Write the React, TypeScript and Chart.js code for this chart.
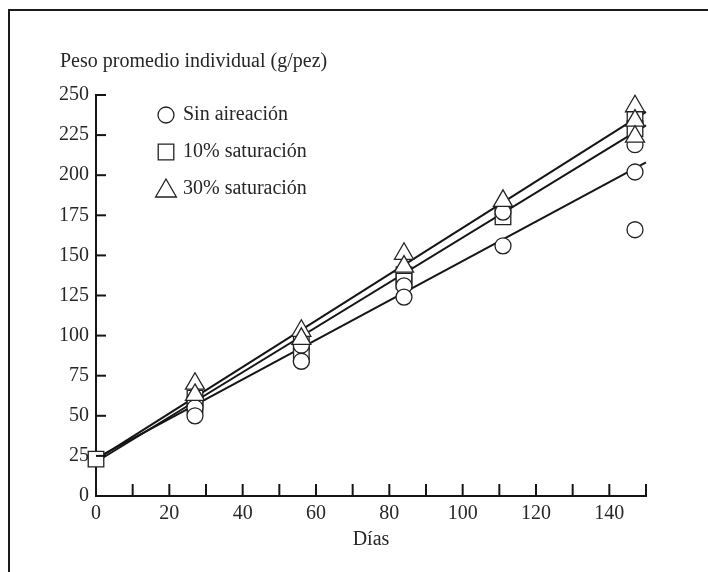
import React, { useEffect, useRef } from "react";
import { Chart, registerables } from "chart.js";

Chart.register(...registerables);

// ---- data ----
const TITLE = "Peso promedio individual (g/pez)";
const X_TITLE = "Días";
const LEGEND_LABELS = ["Sin aireación", "10% saturación", "30% saturación"];

const sinX = [27, 27, 56, 56, 84, 84, 111, 111, 147, 147, 147];
const sinY = [55, 50, 94, 84, 131, 124, 177, 156, 219, 202, 166];

const s10X = [0, 27, 27, 56, 56, 84, 84, 111, 147, 147];
const s10Y = [23, 61, 57, 96, 88, 138, 134, 174, 235, 229];

const s30X = [27, 27, 56, 56, 84, 84, 111, 147, 147, 147];
const s30Y = [70, 63, 103, 98, 151, 143, 184, 243, 234, 224];

// fitted straight lines (start / end)
const fitX = [2, 150];
const sinFit = [26, 208];
const s10Fit = [24, 231];
const s30Fit = [25.5, 239.5];

const X_MIN = 0;
const X_MAX = 150;
const X_STEP = 10;
const X_LABEL_STEP = 20;
const Y_MIN = 0;
const Y_MAX = 250;
const Y_STEP = 25;

// ---- styles ----
const FONT = '"Liberation Serif", "Times New Roman", serif';
const TEXT = "#262626";
const INK = "#151515";

const pts = (xs: number[], ys: number[]) => xs.map((x, i) => ({ x, y: ys[i] }));

function drawMarker(ctx: CanvasRenderingContext2D, style: string, x: number, y: number, r: number) {
  ctx.beginPath();
  if (style === "circle") {
    ctx.arc(x, y, r, 0, Math.PI * 2);
  } else if (style === "rect") {
    const s = r * Math.SQRT1_2;
    ctx.rect(x - s, y - s, 2 * s, 2 * s);
  } else {
    ctx.moveTo(x, y - r);
    ctx.lineTo(x + r * Math.sin(Math.PI / 3), y + r / 2);
    ctx.lineTo(x - r * Math.sin(Math.PI / 3), y + r / 2);
    ctx.closePath();
  }
  ctx.fill();
  ctx.stroke();
}

const framePlugin = {
  id: "frame",
  beforeDraw(chart: any) {
    const ctx = chart.ctx as CanvasRenderingContext2D;
    ctx.save();
    ctx.fillStyle = "#ffffff";
    ctx.fillRect(0, 0, chart.width, chart.height);
    ctx.strokeStyle = "#1a1a1a";
    ctx.lineWidth = 2;
    ctx.beginPath();
    ctx.moveTo(9, chart.height);
    ctx.lineTo(9, 10);
    ctx.lineTo(chart.width, 10);
    ctx.stroke();
    ctx.restore();
  },
  afterDraw(chart: any) {
    const ctx = chart.ctx as CanvasRenderingContext2D;
    const x = chart.scales.x;
    const y = chart.scales.y;
    ctx.save();
    // inward tick marks
    ctx.strokeStyle = INK;
    ctx.lineWidth = 2;
    x.ticks.forEach((t: any) => {
      if (t.value === X_MIN) return;
      const px = x.getPixelForValue(t.value);
      ctx.beginPath();
      ctx.moveTo(px, y.bottom);
      ctx.lineTo(px, y.bottom - 12);
      ctx.stroke();
    });
    y.ticks.forEach((t: any) => {
      if (t.value === Y_MIN) return;
      const py = y.getPixelForValue(t.value);
      ctx.beginPath();
      ctx.moveTo(x.left, py);
      ctx.lineTo(x.left + 10, py);
      ctx.stroke();
    });
    // title
    ctx.fillStyle = TEXT;
    ctx.font = `20px ${FONT}`;
    ctx.textAlign = "left";
    ctx.textBaseline = "middle";
    ctx.fillText(TITLE, 60, 62);
    // legend
    const styles = ["circle", "rect", "triangle"];
    const radii = [8, 11, 12];
    const rows = [115, 152, 189];
    LEGEND_LABELS.forEach((lab, i) => {
      ctx.fillStyle = "#ffffff";
      ctx.strokeStyle = "#222";
      ctx.lineWidth = 1.3;
      drawMarker(ctx, styles[i], 166, rows[i] + (styles[i] === "triangle" ? 2 : 0), radii[i]);
      ctx.fillStyle = TEXT;
      ctx.fillText(lab, 183, rows[i]);
    });
    ctx.restore();
  },
};

const lineDs = (xs: number[], ys: number[]) => ({
  data: pts(xs, ys),
  showLine: true,
  borderColor: INK,
  borderWidth: 2,
  pointRadius: 0,
  fill: false,
  clip: false as any,
  order: 5,
});

const markerDs = (xs: number[], ys: number[], style: string, r: number, order: number) => ({
  data: pts(xs, ys),
  showLine: false,
  pointStyle: style,
  pointRadius: r,
  pointBackgroundColor: "#ffffff",
  pointBorderColor: "#222",
  pointBorderWidth: 1.3,
  clip: false as any,
  order,
});

export default function App() {
  const ref = useRef<HTMLCanvasElement | null>(null);

  useEffect(() => {
    if (!ref.current) return;
    const tickFont = { family: FONT, size: 20 };
    const chart = new Chart(ref.current, {
      type: "scatter",
      data: {
        datasets: [
          lineDs(fitX, sinFit),
          lineDs(fitX, s10Fit),
          lineDs(fitX, s30Fit),
          markerDs(s10X, s10Y, "rect", 11, 3),
          markerDs(sinX, sinY, "circle", 8, 2),
          markerDs(s30X, s30Y, "triangle", 11, 1),
        ] as any,
      },
      options: {
        responsive: false,
        animation: false,
        layout: { padding: { left: 0, right: 62, top: 95, bottom: 16 } },
        plugins: {
          legend: { display: false },
          tooltip: { enabled: false },
          title: { display: false },
        },
        scales: {
          x: {
            type: "linear",
            min: X_MIN,
            max: X_MAX,
            afterFit: (s: any) => {
              s.height = 60;
            },
            grid: { display: false, drawTicks: false },
            border: { display: true, color: INK, width: 2 },
            ticks: {
              stepSize: X_STEP,
              autoSkip: false,
              maxRotation: 0,
              padding: 6,
              color: TEXT,
              font: tickFont,
              callback: (v: any) => (v % X_LABEL_STEP === 0 && v < X_MAX ? String(v) : ""),
            },
            title: {
              display: true,
              text: X_TITLE,
              color: TEXT,
              font: tickFont,
              padding: { top: 0, bottom: 4 },
            },
          },
          y: {
            min: Y_MIN,
            max: Y_MAX,
            afterFit: (s: any) => {
              s.width = 96;
            },
            grid: { display: false, drawTicks: false },
            border: { display: true, color: INK, width: 2 },
            ticks: {
              stepSize: Y_STEP,
              autoSkip: false,
              padding: 7,
              color: TEXT,
              font: tickFont,
            },
          },
        },
      } as any,
      plugins: [framePlugin],
    });
    return () => chart.destroy();
  }, []);

  return (
    <div style={{ position: "absolute", left: 0, top: 0, width: 708, height: 572 }}>
      <canvas ref={ref} width={708} height={572} style={{ display: "block" }} />
    </div>
  );
}
